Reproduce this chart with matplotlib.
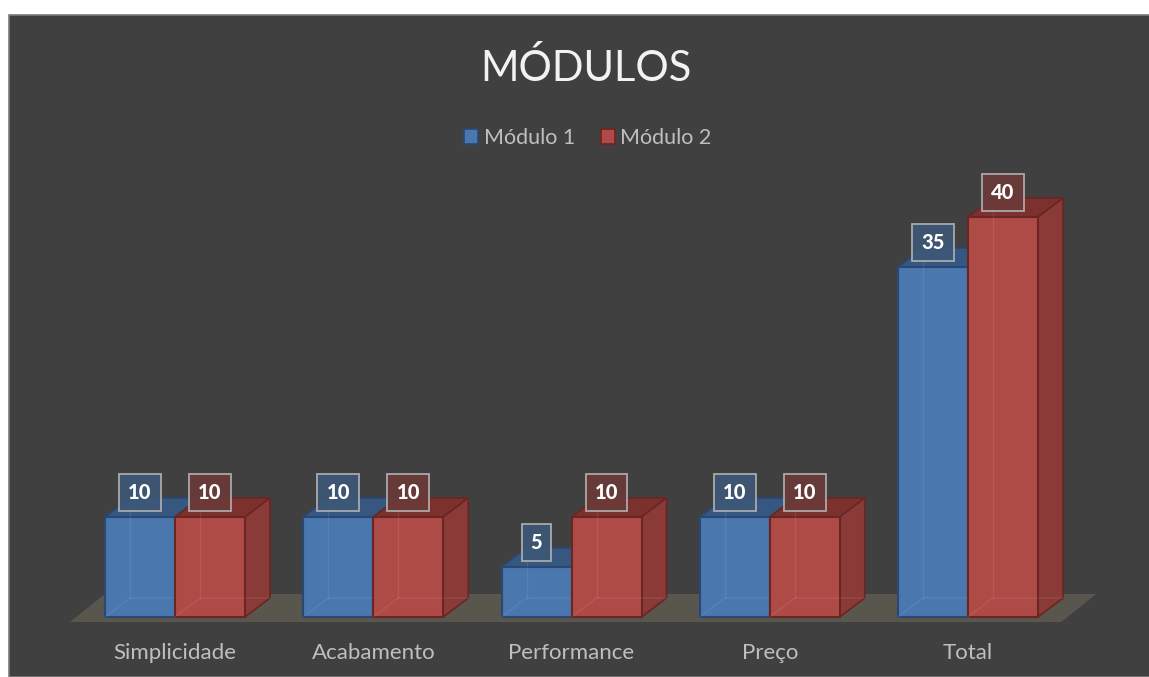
import matplotlib.pyplot as plt
from matplotlib.patches import Polygon, Rectangle, Patch

plt.rcParams['font.family'] = ['Lato', 'DejaVu Sans']

categories = ['Simplicidade', 'Acabamento', 'Performance', 'Preço', 'Total']
series_names = ['Módulo 1', 'Módulo 2']
modulo1 = [10, 10, 5, 10, 35]
modulo2 = [10, 10, 10, 10, 40]

W, H = 1149, 677
BG = '#404040'

# colours per series: front, side, top, edge, label box
styles = [
    dict(front='#4a77ad', side='#3d6493', top='#36577f', edge='#2a4873', box='#3d5877'),
    dict(front='#ae4b47', side='#8a3b38', top='#7b312e', edge='#6b2522', box='#6b3a39'),
]

fig = plt.figure(figsize=(W / 100, H / 100), dpi=100)
fig.patch.set_facecolor('white')
fig.patches.append(Rectangle((9 / W, 0), 1, 1 - 15 / H, transform=fig.transFigure,
                             facecolor=BG, edgecolor='#7a7a7a', lw=1.2, zorder=-5))

ax = fig.add_axes([0, 0, 1, 1])
ax.set_axis_off()
ax.patch.set_alpha(0)

# pixel layout -> data units
x_first, x_step = 175, 198.25      # group centres in px
y_base, px_per_unit = 617, 10.0    # baseline in px from top
ax.set_xlim(-x_first / x_step, (W - x_first) / x_step)
ax.set_ylim(-(H - y_base) / px_per_unit, y_base / px_per_unit)

bw = 70 / x_step                   # bar width
ddx, ddy = 25 / x_step, 19 / px_per_unit   # 3d depth
fdx, fdy = 35 / x_step, 28 / px_per_unit   # floor depth


def draw_box(x0, h, st, z):
    x1 = x0 + bw
    top = [(x0, h), (x1, h), (x1 + ddx, h + ddy), (x0 + ddx, h + ddy)]
    side = [(x1, 0), (x1 + ddx, ddy), (x1 + ddx, h + ddy), (x1, h)]
    ax.add_patch(Polygon(top, closed=True, facecolor=st['top'], edgecolor=st['edge'], lw=1.2, zorder=z))
    ax.add_patch(Polygon(side, closed=True, facecolor=st['side'], edgecolor=st['edge'], lw=1.2, zorder=z))
    ax.bar(x0, h, width=bw, align='edge', color=st['front'], edgecolor=st['edge'], lw=1.5, zorder=z + 0.1)
    # hidden edges showing through the translucent faces
    inner = dict(color='white', alpha=0.08, lw=1, zorder=z + 0.2)
    ax.plot([x0, x0 + ddx, x1 + ddx], [0, ddy, ddy], **inner)
    ax.plot([x0 + ddx, x0 + ddx], [ddy, h + ddy], **inner)


# floor
n = len(categories)
fl_left, fl_right = -0.5 - 0.03, n - 1 + 0.5 - 0.03
floor = [(fl_left, -0.5), (fl_right, -0.5), (fl_right + fdx, -0.5 + fdy), (fl_left + fdx, -0.5 + fdy)]
ax.add_patch(Polygon(floor, closed=True, facecolor='#59564d', edgecolor='none', zorder=1))

for i in range(n):
    for s, vals in enumerate([modulo1, modulo2]):
        st = styles[s]
        x0 = i - bw + s * bw
        draw_box(x0, vals[i], st, 2 + s)

for i in range(n):
    for s, vals in enumerate([modulo1, modulo2]):
        st = styles[s]
        xc = i - bw / 2 + s * bw
        ax.annotate(str(vals[i]), (xc, vals[i]), xytext=(0, 11), textcoords='offset points',
                    ha='center', va='bottom', color='white', fontsize=14.5, fontweight='black', zorder=10,
                    bbox=dict(boxstyle='square,pad=0.45', facecolor=st['box'], edgecolor='#b4b4b4',
                              lw=1.3, alpha=0.9))
    ax.text(i, -3.6, categories[i], ha='center', va='center', color='#bfbfbf', fontsize=16)

fig.text(586 / W, 1 - 68 / H, 'MÓDULOS', ha='center', va='center', color='#f2f2f2', fontsize=30)

handles = [Patch(facecolor=st['front'], edgecolor=st['edge'], lw=1.2) for st in styles]
leg = fig.legend(handles, series_names, loc='center', bbox_to_anchor=(588 / W, 1 - 138 / H),
                 ncol=2, frameon=False, fontsize=15.5, handlelength=0.65, handleheight=0.65,
                 handletextpad=0.25, columnspacing=1.2, labelcolor='#bfbfbf')

fig.savefig('out.png', dpi=100, facecolor=fig.get_facecolor())
